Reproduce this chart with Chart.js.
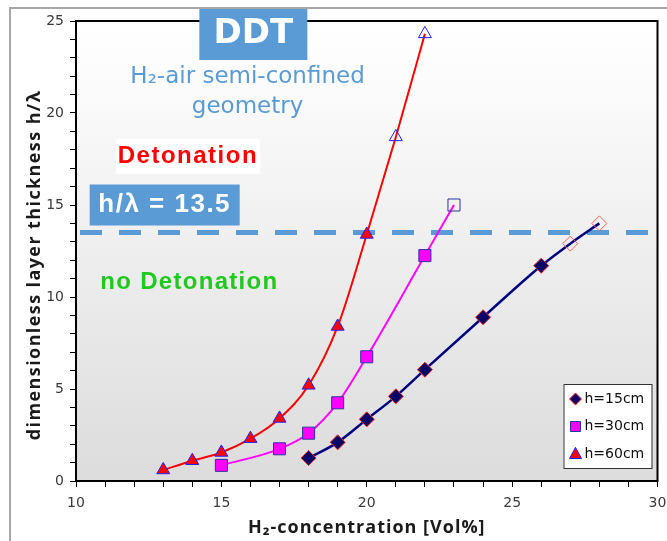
<!DOCTYPE html>
<html>
<head>
<meta charset="utf-8">
<script src="https://cdn.jsdelivr.net/npm/chart.js@4.4.1/dist/chart.umd.min.js"></script>
<style>
  body { margin: 0; background: #fff; }
  #wrap { position: relative; width: 667px; height: 541px; overflow: hidden; }
  #frame { position: absolute; left: 9px; top: 7px; width: 700px; height: 600px;
           border-top: 2px solid #a8a8a8; border-left: 2px solid #a8a8a8; }
  canvas { position: absolute; left: 0; top: 0; }
</style>
</head>
<body>
<div id="wrap">
  <div id="frame"></div>
  <canvas id="ddtChart" width="667" height="541"></canvas>
</div>
<script>
// Данные: h/lambda vs H2 concentration
const h15X = [18, 19, 20, 21, 22, 24, 26];
const h15Y = [1.25, 2.1, 3.35, 4.6, 6.05, 8.9, 11.7];
const h15OpenX = [27, 28];
const h15OpenY = [12.9, 14.0];

const h30X = [15, 17, 18, 19, 20, 22];
const h30Y = [0.85, 1.75, 2.6, 4.25, 6.75, 12.25];
const h30OpenX = [23];
const h30OpenY = [15.0];

const h60X = [13, 14, 15, 16, 17, 18, 19, 20];
const h60Y = [0.6, 1.1, 1.55, 2.3, 3.4, 5.2, 8.4, 13.4];
const h60OpenX = [21, 22];
const h60OpenY = [18.7, 24.3];

const seriesLabels = ['h=15cm', 'h=30cm', 'h=60cm'];
const threshold = 13.5;
const xTicks = [10, 15, 20, 25, 30];
const yTicks = [0, 5, 10, 15, 20, 25];

const BLUE = '#5b9bd5';

function makeSeries(label, xs, ys, openXs, openYs, st) {
    var allX = xs.concat(openXs);
    var allY = ys.concat(openYs);
    var n = xs.length;
    return {
        label: label,
        data: allX.map(function (x, i) { return { x: x, y: allY[i] }; }),
        borderColor: st.line,
        borderWidth: st.lineWidth,
        cubicInterpolationMode: 'monotone',
        fill: false,
        pointStyle: st.shape,
        pointRadius: st.radius,
        pointHoverRadius: st.radius,
        pointBorderWidth: 1,
        pointBackgroundColor: function (c) { return c.dataIndex < n ? st.fill : 'rgba(0,0,0,0)'; },
        pointBorderColor: function (c) { return c.dataIndex < n ? st.edge : st.openEdge; },
        legendStyle: st
    };
}

var datasets = [
    makeSeries(seriesLabels[0], h15X, h15Y, h15OpenX, h15OpenY,
        { line: '#000080', lineWidth: 2.5, shape: 'rectRot', radius: 7.5, fill: '#000066', edge: '#ff2020', openEdge: '#ff6060' }),
    makeSeries(seriesLabels[1], h30X, h30Y, h30OpenX, h30OpenY,
        { line: '#ff00ff', lineWidth: 2, shape: 'rect', radius: 8.5, fill: '#ff00ff', edge: '#3030a0', openEdge: '#3030a0' }),
    makeSeries(seriesLabels[2], h60X, h60Y, h60OpenX, h60OpenY,
        { line: '#ff0000', lineWidth: 2, shape: 'triangle', radius: 7.5, fill: '#ff0000', edge: '#2020ff', openEdge: '#2020ff' })
];

function marker(ctx, shape, x, y, r, fill, edge) {
    ctx.save();
    ctx.beginPath();
    if (shape === 'rectRot') {
        ctx.moveTo(x - r, y); ctx.lineTo(x, y - r); ctx.lineTo(x + r, y); ctx.lineTo(x, y + r);
    } else if (shape === 'rect') {
        ctx.rect(x - r, y - r, 2 * r, 2 * r);
    } else {
        ctx.moveTo(x, y - r * 1.1); ctx.lineTo(x + r, y + r * 0.75); ctx.lineTo(x - r, y + r * 0.75);
    }
    ctx.closePath();
    ctx.fillStyle = fill; ctx.fill();
    ctx.lineWidth = 1; ctx.strokeStyle = edge; ctx.stroke();
    ctx.restore();
}

function labelBox(ctx, text, cx, cy, w, h, bg, color, font, spacing) {
    if (bg) {
        ctx.fillStyle = bg;
        ctx.fillRect(cx - w / 2, cy - h / 2, w, h);
    }
    ctx.fillStyle = color;
    ctx.font = font;
    ctx.letterSpacing = spacing || '0px';
    ctx.textAlign = 'center';
    ctx.textBaseline = 'middle';
    ctx.fillText(text, cx, cy);
    ctx.letterSpacing = '0px';
}

var ddtPlugin = {
    id: 'ddtDecor',
    beforeDraw: function (chart) {
        var a = chart.chartArea, ctx = chart.ctx;
        var g = ctx.createLinearGradient(0, a.top, 0, a.bottom);
        g.addColorStop(0, '#ffffff');
        g.addColorStop(0.15, '#fbfbfb');
        g.addColorStop(1, '#dcdcdc');
        ctx.save();
        ctx.fillStyle = g;
        ctx.fillRect(a.left, a.top, a.right - a.left, a.bottom - a.top);
        ctx.restore();
    },
    beforeDatasetsDraw: function (chart) {
        var a = chart.chartArea, ctx = chart.ctx;
        var y = chart.scales.y.getPixelForValue(threshold);
        ctx.save();
        ctx.strokeStyle = BLUE;
        ctx.lineWidth = 5;
        ctx.setLineDash([22, 17]);
        ctx.beginPath();
        ctx.moveTo(a.left + 4, y);
        ctx.lineTo(a.right - 2, y);
        ctx.stroke();
        ctx.restore();
    },
    afterDraw: function (chart) {
        var a = chart.chartArea, ctx = chart.ctx;
        var sx = chart.scales.x, sy = chart.scales.y;
        ctx.save();
        // рамка
        ctx.strokeStyle = '#000';
        ctx.lineWidth = 2;
        ctx.strokeRect(a.left, a.top, a.right - a.left, a.bottom - a.top);

        // надписи
        labelBox(ctx, 'DDT', sx.getPixelForValue(16.1), 34.5, 108, 51, BLUE, '#fff', 'bold 34px "DejaVu Sans"');
        labelBox(ctx, 'H\u2082-air semi-confined', sx.getPixelForValue(15.9), sy.getPixelForValue(21.95), 0, 0, null, BLUE, '23px "DejaVu Sans"');
        labelBox(ctx, 'geometry', sx.getPixelForValue(15.9), sy.getPixelForValue(20.35), 0, 0, null, BLUE, '23px "DejaVu Sans"');
        labelBox(ctx, 'Detonation', sx.getPixelForValue(13.85), sy.getPixelForValue(17.65), 144, 35, '#ffffff', '#ff0000', 'bold 24px "Liberation Sans"', '1.5px');
        labelBox(ctx, 'h/\u03bb = 13.5', sx.getPixelForValue(13.05), sy.getPixelForValue(15.0), 150, 41, BLUE, '#fff', 'bold 26px "Liberation Sans"', '1.5px');
        labelBox(ctx, 'no Detonation', sx.getPixelForValue(13.9), sy.getPixelForValue(10.8), 0, 0, null, '#20c820', 'bold 24px "Liberation Sans"', '1.3px');

        // заголовки осей
        ctx.fillStyle = '#1a1a1a';
        ctx.font = 'bold 18px "Open Sans"';
        ctx.textAlign = 'center';
        ctx.textBaseline = 'middle';
        ctx.letterSpacing = '1px';
        ctx.fillText('H\u2082-concentration [Vol%]', (a.left + a.right) / 2, 528);
        ctx.save();
        ctx.translate(35, 265);
        ctx.rotate(-Math.PI / 2);
        ctx.letterSpacing = '1.4px';
        ctx.fillText('dimensionless layer thickness h/\u03bb', 0, 0);
        ctx.restore();
        ctx.letterSpacing = '0px';

        // легенда
        var lx = a.right - 94, ly = a.bottom - 97, lw = 88, lh = 84;
        ctx.fillStyle = '#fff';
        ctx.fillRect(lx, ly, lw, lh);
        ctx.strokeStyle = '#333';
        ctx.lineWidth = 1;
        ctx.strokeRect(lx + 0.5, ly + 0.5, lw, lh);
        ctx.font = '14px "DejaVu Sans"';
        ctx.textAlign = 'left';
        chart.data.datasets.forEach(function (ds, i) {
            var st = ds.legendStyle;
            var yy = ly + 15 + i * 27.5;
            var r = st.shape === 'rect' ? 5 : 6;
            marker(ctx, st.shape, lx + 12, yy, r, st.fill, st.edge);
            ctx.fillStyle = '#111';
            ctx.fillText(ds.label, lx + 21, yy);
        });
        ctx.restore();
    }
};

Chart.defaults.font.family = 'DejaVu Sans';
Chart.defaults.font.size = 14;

var ddtCanvas = document.getElementById('ddtChart');
new Chart(ddtCanvas, {
    type: 'line',
    data: { datasets: datasets },
    options: {
        responsive: false,
        animation: false,
        layout: { padding: { left: 0, top: 21, right: 0, bottom: 0 } },
        plugins: {
            legend: { display: false },
            tooltip: { enabled: false }
        },
        scales: {
            x: {
                type: 'linear',
                min: 10,
                max: 30,
                afterFit: function (s) { s.height = 60; s.paddingRight = 8; },
                ticks: {
                    stepSize: 1,
                    autoSkip: false,
                    maxRotation: 0,
                    padding: 8,
                    color: '#3a3a3a',
                    callback: function (v) { return xTicks.indexOf(v) >= 0 ? String(v) : ''; }
                },
                grid: { drawOnChartArea: false, tickLength: 6, tickColor: '#000', tickWidth: 1 },
                border: { color: '#000', width: 2 }
            },
            y: {
                type: 'linear',
                min: 0,
                max: 25,
                afterFit: function (s) { s.width = 76; },
                ticks: {
                    stepSize: 1,
                    autoSkip: false,
                    padding: 6,
                    color: '#3a3a3a',
                    callback: function (v) { return yTicks.indexOf(v) >= 0 ? String(v) : ''; }
                },
                grid: { drawOnChartArea: false, tickLength: 6, tickColor: '#000', tickWidth: 1 },
                border: { color: '#000', width: 2 }
            }
        }
    },
    plugins: [ddtPlugin]
});
</script>
</body>
</html>
